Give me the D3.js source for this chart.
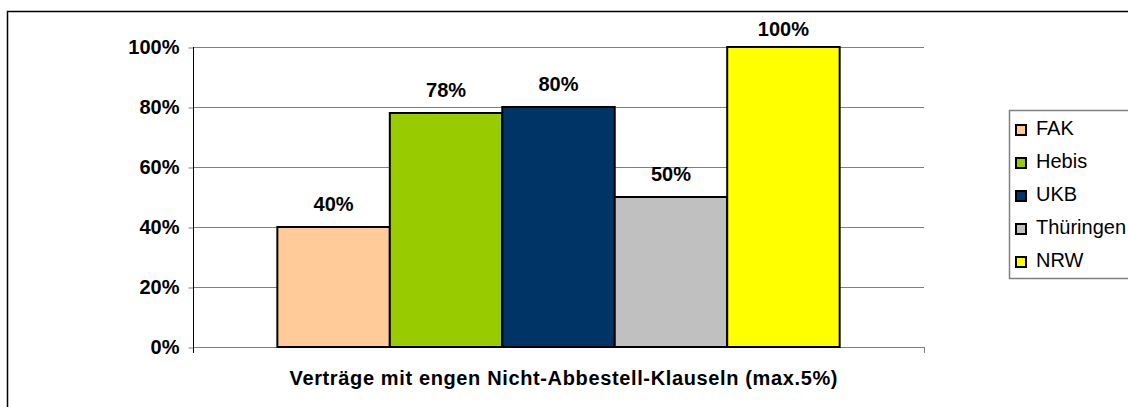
<!DOCTYPE html>
<html>
<head>
<meta charset="utf-8">
<script src="https://cdn.jsdelivr.net/npm/d3@7"></script>
<style>
html,body{margin:0;padding:0;background:#fff;}
svg{display:block;font-family:Arial,"Liberation Sans",sans-serif;}
</style>
</head>
<body>
<svg id="chart" width="1128" height="407"></svg>
<script>
const categoryTitle = "Verträge mit engen Nicht-Abbestell-Klauseln (max.5%)";
const seriesNames = ["FAK", "Hebis", "UKB", "Thüringen", "NRW"];
const seriesValues = [0.40, 0.78, 0.80, 0.50, 1.00];
const seriesColors = ["#FFCC99", "#99CC00", "#003366", "#C0C0C0", "#FFFF00"];
const yTicks = [0, 0.2, 0.4, 0.6, 0.8, 1.0];

const FONT = "Arial, 'Liberation Sans', sans-serif";
const svg = d3.select("#chart");

// outer chart border
svg.append("rect")
  .attr("x", 7.5).attr("y", 11.5)
  .attr("width", 1140).attr("height", 420)
  .attr("fill", "none").attr("stroke", "#000").attr("stroke-width", 1.5);

const plot = {left: 193, right: 924, top: 47, bottom: 347};

const y = d3.scaleLinear().domain([0, 1]).range([plot.bottom, plot.top]);
const x = d3.scaleBand().domain(seriesNames)
  .range([plot.left, plot.right]).paddingInner(0).paddingOuter(0.75);

// gridlines
svg.append("g").selectAll("line").data(yTicks).join("line")
  .attr("x1", plot.left).attr("x2", plot.right)
  .attr("y1", d => Math.round(y(d)) + 0.5).attr("y2", d => Math.round(y(d)) + 0.5)
  .attr("stroke", "#808080").attr("stroke-width", 1);

// y axis
const yAxis = d3.axisLeft(y).tickValues(yTicks).tickFormat(d3.format(".0%")).tickSize(5).tickPadding(9);
const gy = svg.append("g").attr("transform", `translate(${plot.left + 0.5},0.5)`).call(yAxis);
gy.select(".domain").remove();
gy.selectAll(".tick line").attr("stroke", "#808080");
gy.selectAll(".tick text").attr("font-size", 20).attr("font-weight", "bold")
  .attr("fill", "#000").attr("font-family", FONT);
svg.append("line")
  .attr("x1", plot.left + 0.5).attr("x2", plot.left + 0.5)
  .attr("y1", plot.top).attr("y2", plot.bottom + 6)
  .attr("stroke", "#000").attr("stroke-width", 1);

// category axis end tick
svg.append("line")
  .attr("x1", plot.right + 0.5).attr("x2", plot.right + 0.5)
  .attr("y1", plot.bottom).attr("y2", plot.bottom + 6)
  .attr("stroke", "#808080");

// bars
svg.append("g").selectAll("rect").data(seriesValues).join("rect")
  .attr("x", (d, i) => x(seriesNames[i]))
  .attr("y", d => y(d))
  .attr("width", x.bandwidth())
  .attr("height", d => y(0) - y(d))
  .attr("fill", (d, i) => seriesColors[i])
  .attr("stroke", "#000").attr("stroke-width", 2);

// value labels (kept inside the chart frame)
svg.append("g").selectAll("text").data(seriesValues).join("text")
  .attr("x", (d, i) => x(seriesNames[i]) + x.bandwidth() / 2)
  .attr("y", d => Math.max(y(d) - 16, 36))
  .attr("text-anchor", "middle")
  .attr("font-size", 20).attr("font-weight", "bold")
  .text(d => d3.format(".0%")(d));

// category title
svg.append("text")
  .attr("x", (plot.left + plot.right) / 2 + 5)
  .attr("y", 385)
  .attr("text-anchor", "middle")
  .attr("font-size", 20).attr("font-weight", "bold")
  .attr("textLength", 548).attr("lengthAdjust", "spacing")
  .text(categoryTitle);

// legend
const lg = svg.append("g");
lg.append("rect")
  .attr("x", 1009.5).attr("y", 110.5).attr("width", 140).attr("height", 168)
  .attr("fill", "#fff").attr("stroke", "#808080").attr("stroke-width", 1.5);
const ly = d3.scalePoint().domain(seriesNames).range([130, 262]);
const items = lg.selectAll("g.item").data(seriesNames).join("g").attr("class", "item")
  .attr("transform", d => `translate(0,${ly(d)})`);
items.append("rect")
  .attr("x", 1016).attr("y", -5).attr("width", 10).attr("height", 10)
  .attr("fill", (d, i) => seriesColors[i])
  .attr("stroke", "#000").attr("stroke-width", 2);
items.append("text")
  .attr("x", 1036).attr("y", 5)
  .attr("font-size", 20)
  .text(d => d);
</script>
</body>
</html>
